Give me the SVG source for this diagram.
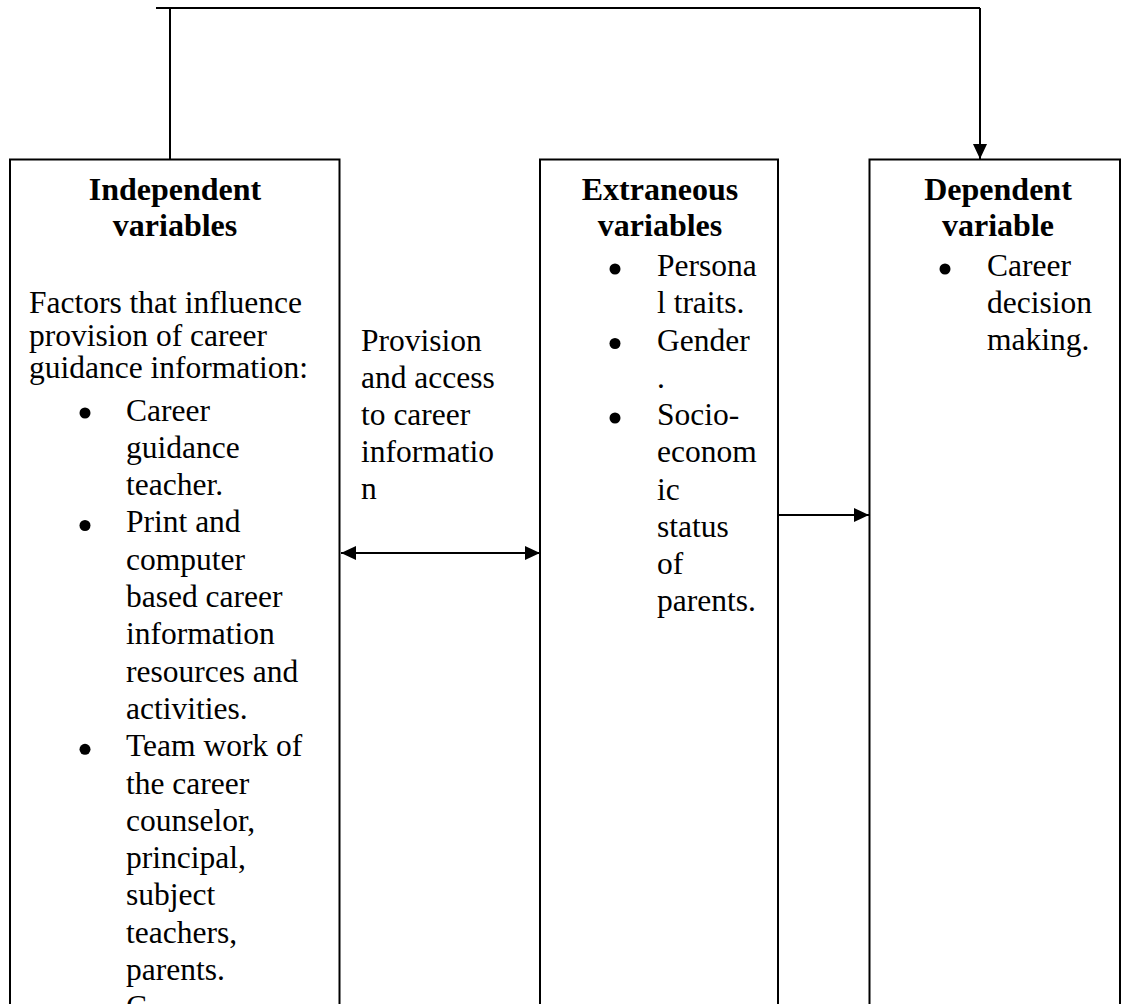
<svg xmlns="http://www.w3.org/2000/svg" width="1122" height="1004" viewBox="0 0 1122 1004">
<style>
.box{fill:#fff;stroke:#000;stroke-width:2}
.ln{fill:none;stroke:#000;stroke-width:2}
text{font-family:"Liberation Serif","Times New Roman",serif;fill:#000}
.h{font-size:32px;font-weight:bold;text-anchor:middle}
.t{font-size:31.5px}
.b{fill:#000}
</style>
<defs>
<marker id="ah" markerUnits="userSpaceOnUse" markerWidth="16" markerHeight="14" refX="15" refY="7" orient="auto-start-reverse">
<path d="M0,0 L15,7 L0,14 Z" fill="#000"/>
</marker>
</defs>
<rect width="1122" height="1004" fill="#fff"/>
<g id="connectors">
<path class="ln" d="M156,8 H980"/>
<path class="ln" d="M170,8 V159"/>
<path class="ln" d="M980,8 V159" marker-end="url(#ah)"/>
<path class="ln" d="M341,553 H540" marker-start="url(#ah)" marker-end="url(#ah)"/>
<path class="ln" d="M778,515 H869" marker-end="url(#ah)"/>
<g id="label-provision">
<text class="t" x="361" y="351">Provision</text>
<text class="t" x="361" y="388">and access</text>
<text class="t" x="361" y="425">to career</text>
<text class="t" x="361" y="462">informatio</text>
<text class="t" x="361" y="499">n</text>
</g>
</g>
<g id="independent">
<rect class="box" x="10" y="159.5" width="329.5" height="860"/>
<text class="h" x="175" y="200">Independent</text>
<text class="h" x="175" y="236">variables</text>
<text class="t" x="29" y="313">Factors that influence</text>
<text class="t" x="29" y="345.5">provision of career</text>
<text class="t" x="29" y="378">guidance information:</text>
<circle class="b" cx="85" cy="413" r="5.5"/>
<text class="t" x="126" y="420.5">Career</text>
<text class="t" x="126" y="457.8">guidance</text>
<text class="t" x="126" y="495.1">teacher.</text>
<circle class="b" cx="85" cy="525.5" r="5.5"/>
<text class="t" x="126" y="532.4">Print and</text>
<text class="t" x="126" y="569.7">computer</text>
<text class="t" x="126" y="607">based career</text>
<text class="t" x="126" y="644.3">information</text>
<text class="t" x="126" y="681.6">resources and</text>
<text class="t" x="126" y="718.9">activities.</text>
<circle class="b" cx="85" cy="749.3" r="5.5"/>
<text class="t" x="126" y="756.2">Team work of</text>
<text class="t" x="126" y="793.5">the career</text>
<text class="t" x="126" y="830.8">counselor,</text>
<text class="t" x="126" y="868.1">principal,</text>
<text class="t" x="126" y="905.4">subject</text>
<text class="t" x="126" y="942.7">teachers,</text>
<text class="t" x="126" y="980">parents.</text>
<text class="t" x="126" y="1017.3">C</text>
</g>
<g id="extraneous">
<rect class="box" x="540" y="159.5" width="238" height="860"/>
<text class="h" x="660" y="200">Extraneous</text>
<text class="h" x="660" y="236">variables</text>
<circle class="b" cx="615" cy="269" r="5.5"/>
<text class="t" x="657" y="276">Persona</text>
<text class="t" x="657" y="313">l traits.</text>
<circle class="b" cx="615" cy="343.5" r="5.5"/>
<text class="t" x="657" y="350.5">Gender</text>
<text class="t" x="657" y="388">.</text>
<circle class="b" cx="615" cy="418" r="5.5"/>
<text class="t" x="657" y="425">Socio-</text>
<text class="t" x="657" y="462">econom</text>
<text class="t" x="657" y="499.5">ic</text>
<text class="t" x="657" y="537">status</text>
<text class="t" x="657" y="574">of</text>
<text class="t" x="657" y="611">parents.</text>
</g>
<g id="dependent">
<rect class="box" x="869.5" y="159.5" width="250.5" height="860"/>
<text class="h" x="998" y="200">Dependent</text>
<text class="h" x="998" y="236">variable</text>
<circle class="b" cx="945" cy="269" r="5.5"/>
<text class="t" x="987" y="276">Career</text>
<text class="t" x="987" y="313">decision</text>
<text class="t" x="987" y="350">making.</text>
</g>
</svg>
